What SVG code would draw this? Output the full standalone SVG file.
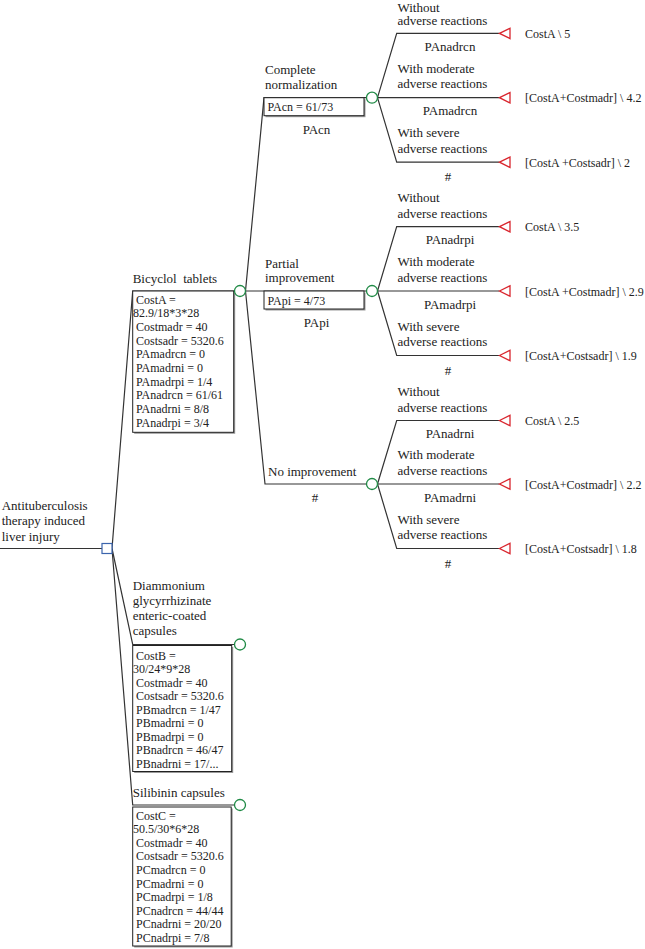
<svg xmlns="http://www.w3.org/2000/svg" width="645" height="949" viewBox="0 0 645 949">
<style>
.t{font-family:"Liberation Serif","Times New Roman",serif;font-size:13px;fill:#222}
.s{font-size:12px}
.c{text-anchor:middle}
.pre{white-space:pre}
.ln{stroke:#333;stroke-width:1.2;fill:none}
.chance{fill:#fff;stroke:#1f8a45;stroke-width:1.3}
.term{fill:#fff;stroke:#d9262e;stroke-width:1.3}
.dec{fill:#fff;stroke:#3b64ad;stroke-width:1.2}
.box{fill:#fff;stroke:#222;stroke-width:1}
.shadow{fill:#9a9a9a}
</style>
<rect width="645" height="949" fill="#fff"/>
<g id="connectors">
<polyline class="ln" points="0,548.5 102,548.5"/>
<polyline class="ln" points="112,548.5 132.7,291 234.5,291"/>
<polyline class="ln" points="112,548.5 132.7,644.5 234.5,644.5"/>
<polyline class="ln" points="112,548.5 132.7,805 234.5,805"/>
<polyline class="ln" points="245.5,291 264,97.7 366.5,97.7"/>
<polyline class="ln" points="245.5,291 366.5,291"/>
<polyline class="ln" points="245.5,291 265,484 366.5,484"/>
<polyline class="ln" points="377.5,97.7 396.7,33.4 499.5,33.4"/>
<polyline class="ln" points="377.5,97.7 499.5,97.7"/>
<polyline class="ln" points="377.5,97.7 396.7,162.2 499.5,162.2"/>
<polyline class="ln" points="377.5,291 396.7,226.7 499.5,226.7"/>
<polyline class="ln" points="377.5,291 499.5,291"/>
<polyline class="ln" points="377.5,291 396.7,355.5 499.5,355.5"/>
<polyline class="ln" points="377.5,484 396.7,420.5 499.5,420.5"/>
<polyline class="ln" points="377.5,484 499.5,484"/>
<polyline class="ln" points="377.5,484 396.7,548.5 499.5,548.5"/>
</g>
<g id="root">
<text class="t" x="1.7" y="509.5">Antituberculosis</text>
<text class="t" x="1.7" y="525">therapy induced</text>
<text class="t" x="1.7" y="540.5">liver injury</text>
<rect class="dec" x="102" y="543.5" width="10" height="10"/>
</g>
<g id="bicyclol">
<text class="t pre" x="132.7" y="283">Bicyclol  tablets</text>
<rect class="shadow" x="134.2" y="292.5" width="101" height="141.3"/>
<rect class="box" x="132.7" y="291" width="101" height="141.3"/>
<text class="t s" x="136" y="303.5">CostA =</text>
<text class="t s" x="133" y="317.2">82.9/18*3*28</text>
<text class="t s" x="136" y="330.9">Costmadr = 40</text>
<text class="t s" x="136" y="344.6">Costsadr = 5320.6</text>
<text class="t s" x="136" y="358.3">PAmadrcn = 0</text>
<text class="t s" x="136" y="372">PAmadrni = 0</text>
<text class="t s" x="136" y="385.7">PAmadrpi = 1/4</text>
<text class="t s" x="136" y="399.4">PAnadrcn = 61/61</text>
<text class="t s" x="136" y="413.1">PAnadrni = 8/8</text>
<text class="t s" x="136" y="426.8">PAnadrpi = 3/4</text>
<circle class="chance" cx="240" cy="291" r="5.5"/>
</g>
<g id="complete">
<text class="t" x="265" y="74">Complete</text>
<text class="t" x="265" y="89">normalization</text>
<rect class="shadow" x="265.5" y="99.2" width="100" height="18"/>
<rect class="box" x="264" y="97.7" width="100" height="18"/>
<text class="t s" x="267.5" y="111">PAcn = 61/73</text>
<text class="t c" x="316.5" y="134">PAcn</text>
<circle class="chance" cx="372" cy="97.7" r="5.5"/>
</g>
<g id="partial">
<text class="t" x="265" y="267.5">Partial</text>
<text class="t" x="265" y="282.3">improvement</text>
<rect class="shadow" x="265.5" y="292.5" width="100" height="18"/>
<rect class="box" x="264" y="291" width="100" height="18"/>
<text class="t s" x="267.5" y="304.5">PApi = 4/73</text>
<text class="t c" x="316.5" y="327">PApi</text>
<circle class="chance" cx="372" cy="291" r="5.5"/>
</g>
<g id="noimprovement">
<text class="t" x="268" y="476">No improvement</text>
<text class="t c" x="315" y="502">#</text>
<circle class="chance" cx="372" cy="484" r="5.5"/>
</g>
<g id="cn-outcomes">
<text class="t" x="397.5" y="11.5">Without</text>
<text class="t" x="397.5" y="25">adverse reactions</text>
<text class="t c" x="450" y="50.9">PAnadrcn</text>
<text class="t" x="397.5" y="72.7">With moderate</text>
<text class="t" x="397.5" y="88.2">adverse reactions</text>
<text class="t c" x="450" y="115.2">PAmadrcn</text>
<text class="t" x="397.5" y="137.2">With severe</text>
<text class="t" x="397.5" y="152.7">adverse reactions</text>
<text class="t c" x="448" y="181.2">#</text>
</g>
<g id="cn-t1"><polygon class="term" points="499.5,33.4 510,28.2 510,38.6"/><text class="t s" x="525" y="37.9">CostA \ 5</text></g>
<g id="cn-t2"><polygon class="term" points="499.5,97.7 510,92.5 510,102.9"/><text class="t s" x="525" y="102.2">[CostA+Costmadr] \ 4.2</text></g>
<g id="cn-t3"><polygon class="term" points="499.5,162.2 510,157 510,167.4"/><text class="t s" x="525" y="166.7">[CostA +Costsadr] \ 2</text></g>
<g id="pi-outcomes">
<text class="t" x="397.5" y="202.2">Without</text>
<text class="t" x="397.5" y="217.7">adverse reactions</text>
<text class="t c" x="450" y="244.2">PAnadrpi</text>
<text class="t" x="397.5" y="266">With moderate</text>
<text class="t" x="397.5" y="281.5">adverse reactions</text>
<text class="t c" x="450" y="308.5">PAmadrpi</text>
<text class="t" x="397.5" y="330.5">With severe</text>
<text class="t" x="397.5" y="346">adverse reactions</text>
<text class="t c" x="448" y="374.5">#</text>
</g>
<g id="pi-t1"><polygon class="term" points="499.5,226.7 510,221.5 510,231.9"/><text class="t s" x="525" y="231.2">CostA \ 3.5</text></g>
<g id="pi-t2"><polygon class="term" points="499.5,291 510,285.8 510,296.2"/><text class="t s" x="525" y="295.5">[CostA +Costmadr] \ 2.9</text></g>
<g id="pi-t3"><polygon class="term" points="499.5,355.5 510,350.3 510,360.7"/><text class="t s" x="525" y="360">[CostA+Costsadr] \ 1.9</text></g>
<g id="ni-outcomes">
<text class="t" x="397.5" y="396">Without</text>
<text class="t" x="397.5" y="411.5">adverse reactions</text>
<text class="t c" x="450" y="438">PAnadrni</text>
<text class="t" x="397.5" y="459">With moderate</text>
<text class="t" x="397.5" y="474.5">adverse reactions</text>
<text class="t c" x="450" y="501.5">PAmadrni</text>
<text class="t" x="397.5" y="523.5">With severe</text>
<text class="t" x="397.5" y="539">adverse reactions</text>
<text class="t c" x="448" y="567.5">#</text>
</g>
<g id="ni-t1"><polygon class="term" points="499.5,420.5 510,415.3 510,425.7"/><text class="t s" x="525" y="425">CostA \ 2.5</text></g>
<g id="ni-t2"><polygon class="term" points="499.5,484 510,478.8 510,489.2"/><text class="t s" x="525" y="488.5">[CostA+Costmadr] \ 2.2</text></g>
<g id="ni-t3"><polygon class="term" points="499.5,548.5 510,543.3 510,553.7"/><text class="t s" x="525" y="553">[CostA+Costsadr] \ 1.8</text></g>
<g id="diammonium">
<text class="t" x="132.7" y="590">Diammonium</text>
<text class="t" x="132.7" y="605">glycyrrhizinate</text>
<text class="t" x="132.7" y="620">enteric-coated</text>
<text class="t" x="132.7" y="635">capsules</text>
<rect class="shadow" x="134.2" y="647" width="99" height="126"/>
<rect class="box" x="132.7" y="645.5" width="99" height="126"/>
<text class="t s" x="136" y="659.5">CostB =</text>
<text class="t s" x="133" y="673">30/24*9*28</text>
<text class="t s" x="136" y="686.5">Costmadr = 40</text>
<text class="t s" x="136" y="700">Costsadr = 5320.6</text>
<text class="t s" x="136" y="713.5">PBmadrcn = 1/47</text>
<text class="t s" x="136" y="727">PBmadrni = 0</text>
<text class="t s" x="136" y="740.5">PBmadrpi = 0</text>
<text class="t s" x="136" y="754">PBnadrcn = 46/47</text>
<text class="t s" x="136" y="767.5">PBnadrni = 17/...</text>
<circle class="chance" cx="240" cy="644.5" r="5.5"/>
</g>
<g id="silibinin">
<text class="t" x="132.7" y="797">Silibinin capsules</text>
<rect class="shadow" x="134.2" y="808.5" width="98.5" height="139"/>
<rect class="box" x="132.7" y="807" width="98.5" height="139"/>
<text class="t s" x="136" y="819.5">CostC =</text>
<text class="t s" x="133" y="833.1">50.5/30*6*28</text>
<text class="t s" x="136" y="846.7">Costmadr = 40</text>
<text class="t s" x="136" y="860.3">Costsadr = 5320.6</text>
<text class="t s" x="136" y="873.9">PCmadrcn = 0</text>
<text class="t s" x="136" y="887.5">PCmadrni = 0</text>
<text class="t s" x="136" y="901.1">PCmadrpi = 1/8</text>
<text class="t s" x="136" y="914.7">PCnadrcn = 44/44</text>
<text class="t s" x="136" y="928.3">PCnadrni = 20/20</text>
<text class="t s" x="136" y="941.9">PCnadrpi = 7/8</text>
<circle class="chance" cx="240" cy="805" r="5.5"/>
</g>
</svg>
